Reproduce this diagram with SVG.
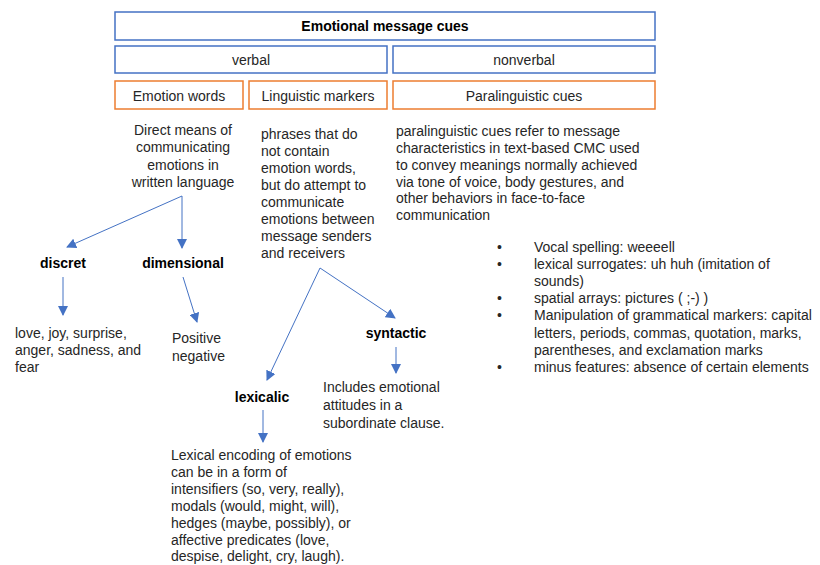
<svg xmlns="http://www.w3.org/2000/svg" width="820" height="565" viewBox="0 0 820 565">
<style>
text{font-family:"Liberation Sans",Arial,sans-serif;font-size:14px;fill:#262626}
.b{font-weight:bold;fill:#000}
.c{text-anchor:middle}
.bx{fill:#fff;stroke:#4472C4;stroke-width:1.5}
.ox{fill:#fff;stroke:#ED7D31;stroke-width:1.5}
.ar{fill:none;stroke:#4472C4;stroke-width:1;marker-end:url(#ah)}
</style>
<defs>
<marker id="ah" viewBox="0 0 10 10" refX="9" refY="5" markerWidth="10" markerHeight="10" markerUnits="userSpaceOnUse" orient="auto">
<path d="M0,0L10,5L0,10Z" fill="#4472C4"/>
</marker>
</defs>
<rect width="820" height="565" fill="#fff"/>
<g id="title"><rect class="bx" x="115" y="12" width="540" height="28"/><text class="b c" x="385" y="31">Emotional message cues</text></g>
<g id="verbal"><rect class="bx" x="115" y="46" width="272" height="27"/><text class="c" x="251" y="65">verbal</text></g>
<g id="nonverbal"><rect class="bx" x="393" y="46" width="262" height="27"/><text class="c" x="524" y="65">nonverbal</text></g>
<g id="emotion-words"><rect class="ox" x="115" y="81" width="128" height="28"/><text class="c" x="179" y="101">Emotion words</text></g>
<g id="linguistic-markers"><rect class="ox" x="249" y="81" width="138" height="28"/><text class="c" x="318" y="101">Linguistic markers</text></g>
<g id="paralinguistic-cues"><rect class="ox" x="393" y="81" width="262" height="28"/><text class="c" x="524" y="101">Paralinguistic cues</text></g>
<g id="ew-desc"><text class="c" x="183"><tspan x="183" y="135">Direct means of</tspan><tspan x="183" y="152">communicating</tspan><tspan x="183" y="170">emotions in</tspan><tspan x="183" y="187">written language</tspan></text></g>
<g id="lm-desc"><text x="261"><tspan x="261" y="139">phrases that do</tspan><tspan x="261" y="156">not contain</tspan><tspan x="261" y="173">emotion words,</tspan><tspan x="261" y="190">but do attempt to</tspan><tspan x="261" y="207">communicate</tspan><tspan x="261" y="224">emotions between</tspan><tspan x="261" y="241">message senders</tspan><tspan x="261" y="258">and receivers</tspan></text></g>
<g id="pc-desc"><text x="396"><tspan x="396" y="136">paralinguistic cues refer to message</tspan><tspan x="396" y="153">characteristics in text-based CMC used</tspan><tspan x="396" y="170">to convey meanings normally achieved</tspan><tspan x="396" y="187">via tone of voice, body gestures, and</tspan><tspan x="396" y="203">other behaviors in face-to-face</tspan><tspan x="396" y="220">communication</tspan></text></g>
<g id="pc-list">
<text x="497" y="252">•</text><text x="534" y="252">Vocal spelling: weeeell</text>
<text x="497" y="269">•</text><text x="534" y="269">lexical surrogates: uh huh (imitation of</text>
<text x="534" y="286">sounds)</text>
<text x="497" y="303">•</text><text x="534" y="303">spatial arrays: pictures ( ;-) )</text>
<text x="497" y="320">•</text><text x="534" y="320">Manipulation of grammatical markers: capital</text>
<text x="534" y="338">letters, periods, commas, quotation, marks,</text>
<text x="534" y="355">parentheses, and exclamation marks</text>
<text x="497" y="372">•</text><text x="534" y="372">minus features: absence of certain elements</text>
</g>
<g id="discret"><text class="b c" x="63" y="268">discret</text></g>
<g id="dimensional"><text class="b c" x="183" y="268">dimensional</text></g>
<g id="discret-desc"><text x="15"><tspan x="15" y="338">love, joy, surprise,</tspan><tspan x="15" y="355">anger, sadness, and</tspan><tspan x="15" y="372">fear</tspan></text></g>
<g id="dimensional-desc"><text x="172"><tspan x="172" y="343">Positive</tspan><tspan x="172" y="361">negative</tspan></text></g>
<g id="syntactic"><text class="b c" x="396" y="338">syntactic</text></g>
<g id="syntactic-desc"><text x="323"><tspan x="323" y="392">Includes emotional</tspan><tspan x="323" y="410">attitudes in a</tspan><tspan x="323" y="428">subordinate clause.</tspan></text></g>
<g id="lexicalic"><text class="b c" x="262" y="402">lexicalic</text></g>
<g id="lexicalic-desc"><text x="171"><tspan x="171" y="460">Lexical encoding of emotions</tspan><tspan x="171" y="477">can be in a form of</tspan><tspan x="171" y="494">intensifiers (so, very, really),</tspan><tspan x="171" y="511">modals (would, might, will),</tspan><tspan x="171" y="528">hedges (maybe, possibly), or</tspan><tspan x="171" y="545">affective predicates (love,</tspan><tspan x="171" y="561">despise, delight, cry, laugh).</tspan></text></g>
<g id="connectors">
<path class="ar" d="M182,196L67,247"/>
<path class="ar" d="M182,196L182,248"/>
<path class="ar" d="M63,277L63,315"/>
<path class="ar" d="M183,277L197,322"/>
<path class="ar" d="M320,268L267,380"/>
<path class="ar" d="M320,268L395,318"/>
<path class="ar" d="M396,347L396,373"/>
<path class="ar" d="M263,410L263,442"/>
</g>
</svg>
